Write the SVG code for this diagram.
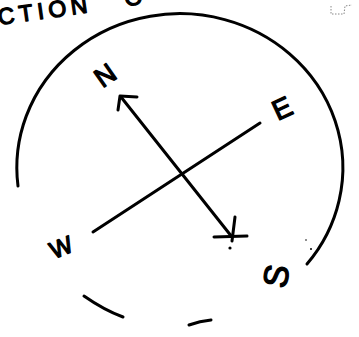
<svg xmlns="http://www.w3.org/2000/svg" width="359" height="337" viewBox="0 0 359 337">
<style>
.ink{fill:none;stroke:#000;stroke-width:3;stroke-linecap:round;stroke-linejoin:round}
.lbl{font-family:"Liberation Sans","DejaVu Sans",sans-serif;fill:#000;stroke:#000;stroke-width:1.3;stroke-linejoin:round;text-anchor:middle}
.faint{fill:none;stroke:#888;stroke-width:1;stroke-dasharray:1.5 1.5}
</style>
<rect width="359" height="337" fill="#fff"/>
<g id="title" transform="translate(-1,25) rotate(-8)">
<text class="lbl" x="0" y="0" font-size="23" style="text-anchor:start" textLength="90">CTION</text>
<text class="lbl" x="128" y="-1" font-size="23" style="text-anchor:start">O</text>
</g>
<path class="faint" d="M331,6 L331,14 L344,14 L345,6 L352,5"/>
<g id="circle">
<path class="ink" d="M18,186 A163,154 0 1 1 307,264"/>
<path class="ink" d="M84,296 Q104,310 123,317"/>
<path class="ink" d="M189,325 Q200,321 211,320"/>
<circle cx="311" cy="249" r="1" fill="#000"/>
<circle cx="306" cy="240" r="0.8" fill="#000"/>
</g>
<g id="connectors">
<line class="ink" x1="121" y1="97" x2="232" y2="237"/>
<polyline class="ink" points="137,97 120,96 118,110"/>
<line class="ink" x1="93" y1="232" x2="260" y2="123"/>
<line class="ink" x1="214" y1="237" x2="247" y2="236"/>
<line class="ink" x1="235" y1="217" x2="232" y2="241"/>
<circle cx="230" cy="248" r="1.6" fill="#000"/>
</g>
<g id="N"><text class="lbl" font-size="27" transform="translate(105,75) rotate(-35)" y="9.7">N</text></g>
<g id="E"><text class="lbl" font-size="28" transform="translate(282,108) rotate(-25)" y="10">E</text></g>
<g id="W"><text class="lbl" font-size="24" transform="translate(61,247) rotate(-22)" y="8.6">W</text></g>
<g id="S"><text class="lbl" font-size="34" transform="translate(276,276) rotate(-80)" y="12">S</text></g>
</svg>
